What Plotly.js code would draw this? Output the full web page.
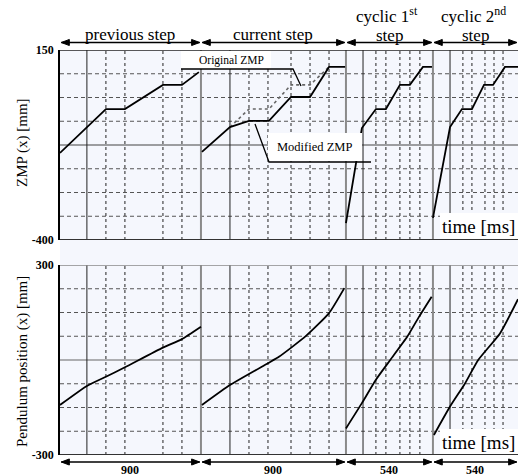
<!DOCTYPE html>
<html><head><meta charset="utf-8">
<script src="https://cdn.plot.ly/plotly-3.0.1.min.js"></script>
<style>html,body{margin:0;padding:0;background:#fff;}#chart{width:518px;height:476px;}
svg text{font-family:'Liberation Serif' !important;}</style>
</head><body><div id="chart"></div>
<script>
// ---- data (time in ms, values in mm) ----
const zmpTime  = [25,310,428,664,782,887,null,906,1080,1198,1322,1459,1577,1695,1795,null,1800,1899,1986,2048,2135,2197,2278,2334,null,2340,2446,2520,2582,2657,2713,2787,2868];
const zmpValue = [-148,-21,-21,49,49,86,null,-145,-73,-55,-55,14,14,101,101,null,-351,-76,-21,-21,49,49,101,101,null,-336,-73,-21,-21,49,49,101,101];
const origTime  = [1080,1198,1322,1459,1577,1695];
const origValue = [-73,-21,-21,49,49,101];
const pendTime  = [25,192,310,428,664,782,900,null,906,1080,1316,1384,1552,1695,1790,null,1800,1898,1985,2075,2181,2254,2332,null,2346,2446,2539,2621,2756,2868];
const pendValue = [-142,-82,-53,-23,39,66,105,null,-142,-79,-10,10,76,148,227,null,-216,-137,-63,0,74,137,200,null,-237,-147,-74,0,84,192];

const sectionStart = [25,900,1800,2340];
const sectionEnd   = [900,1800,2340,2868];
const sectionTop   = ['previous step','current step','cyclic 1<sup>st</sup>','cyclic 2<sup>nd</sup>'];
const sectionSecond= ['','','step','step'];
const sectionDur   = ['900','900','540','540'];

const solidLines    = [192,1080,1906,2446];
const boundaryLines = [900,1800,2340];
const dashedLines   = [310,428,664,782,1198,1316,1459,1577,1695,1986,2048,2135,2197,2259,2526,2582,2663,2719,2775];
const zmpGrid  = [81.25,12.5,-56.25,-193.75,-262.5,-331.25];
const zmpMid   = -125;
const pendGrid = [225,150,75,-75,-150,-225];
const pendMid  = 0;

// ---- helpers for decoration positions (pixel -> paper) ----
const W=518,H=476,ML=60,MT=50,MB=21;
const PW=W-ML, PH=H-MT-MB;
const px = p => (p-ML)/PW;
const py = p => (H-MB-p)/PH;
const SERIF = 'Liberation Serif';

const shapes = [];
shapes.push({type:'rect',xref:'paper',yref:'paper',x0:0,x1:1,y0:0,y1:1,fillcolor:'#f5f7fd',line:{width:0},layer:'below'});

function hline(yref,y,color,width,dash){
  shapes.push({type:'line',xref:'paper',yref:yref,x0:0,x1:1,y0:y,y1:y,line:{color:color,width:width,dash:dash},layer:'below'});
}
function vline(yref,x,color,width,dash){
  shapes.push({type:'line',xref:'x',yref:yref,x0:x,x1:x,y0:0,y1:1,line:{color:color,width:width,dash:dash},layer:'below'});
}
zmpGrid.forEach(v=>hline('y',v,'#555',1,'4px,3px'));
pendGrid.forEach(v=>hline('y2',v,'#555',1,'4px,3px'));
hline('y',zmpMid,'#444',1.2,'solid');
hline('y2',pendMid,'#666',1.2,'solid');
['y domain','y2 domain'].forEach(r=>{
  dashedLines.forEach(x=>vline(r,x,'#222',1,'3px,3px'));
  solidLines.forEach(x=>vline(r,x,'#222',1,'solid'));
  boundaryLines.forEach(x=>vline(r,x,'#8a8a8a',2,'solid'));
});
hline('y',150,'#222',1.5,'solid');
hline('y',-400,'#333',2,'solid');
hline('y2',300,'#888',1.5,'solid');
hline('y2',-300,'#333',2,'solid');

function arrow(x0,x1,yp){
  const L=50, h=0.0075, g=8;
  const a=x0+g, b=x1-g;
  shapes.push({type:'line',xref:'x',yref:'paper',x0:a,x1:b,y0:yp,y1:yp,line:{color:'#000',width:1.5}});
  shapes.push({type:'path',xref:'x',yref:'paper',path:`M ${a},${yp} L ${a+L},${yp+h} L ${a+L},${yp-h} Z`,fillcolor:'#000',line:{color:'#000',width:1}});
  shapes.push({type:'path',xref:'x',yref:'paper',path:`M ${b},${yp} L ${b-L},${yp+h} L ${b-L},${yp-h} Z`,fillcolor:'#000',line:{color:'#000',width:1}});
}
sectionStart.forEach((s,i)=>{ arrow(s,sectionEnd[i],py(42.5)); arrow(s,sectionEnd[i],py(462)); });

function wrect(x0,y0,x1,y1){shapes.push({type:'rect',xref:'paper',yref:'paper',x0:px(x0),x1:px(x1),y0:py(y1),y1:py(y0),fillcolor:'#ffffff',line:{width:0},layer:'above'});}
function pline(pts){
  const d = pts.map((p,i)=>(i?'L ':'M ')+px(p[0])+','+py(p[1])).join(' ');
  shapes.push({type:'path',xref:'paper',yref:'paper',path:d,line:{color:'#000',width:1.3},layer:'above'});
}
wrect(181,51,271,69);
pline([[181,69],[293,69],[301,86]]);
wrect(268,133,362,161);
pline([[255,124],[269,162],[371,162]]);
wrect(440,213,518,239);
wrect(440,429,518,454);

const annotations = [];
function ann(x,y,text,size,extra,xref){
  annotations.push(Object.assign({xref:xref||'paper',yref:'paper',x:x,y:y,text:text,showarrow:false,
    font:{family:SERIF,size:size,color:'#000'},xanchor:'center',yanchor:'middle'},extra||{}));
}
sectionStart.forEach((s,i)=>{
  const mid=(s+sectionEnd[i])/2;
  if(sectionSecond[i]){
    ann(mid-15,py(15),sectionTop[i],17,{},'x');
    ann(mid,py(35),sectionSecond[i],17,{},'x');
  } else {
    ann(mid,py(34),sectionTop[i],17,{},'x');
  }
  ann(mid,py(470),'<b>'+sectionDur[i]+'</b>',12,{},'x');
});
ann(px(231),py(60),'Original ZMP',11.5);
ann(px(314),py(147),'Modified ZMP',12.5);
ann(px(478),py(227),'time [ms]',19);
ann(px(478),py(442),'time [ms]',19);
ann(px(22),py(143),'ZMP (x) [mm]',15,{textangle:-90});
ann(px(22),py(362),'Pendulum position (x) [mm]',15,{textangle:-90});

const traces = [
  {x:origTime,y:origValue,type:'scatter',mode:'lines',xaxis:'x',yaxis:'y',line:{color:'#666',width:1.6,dash:'dot'},hoverinfo:'skip'},
  {x:zmpTime,y:zmpValue,type:'scatter',mode:'lines',xaxis:'x',yaxis:'y',line:{color:'#000',width:1.8},connectgaps:false,hoverinfo:'skip'},
  {x:pendTime,y:pendValue,type:'scatter',mode:'lines',xaxis:'x2',yaxis:'y2',line:{color:'#000',width:1.8,shape:'spline',smoothing:0.5},connectgaps:false,hoverinfo:'skip'}
];

const tickfont = {family:SERIF,size:12,color:'#000'};
const layout = {
  width:W,height:H,margin:{l:ML,r:0,t:MT,b:MB,pad:0},
  paper_bgcolor:'#ffffff',plot_bgcolor:'#f5f7fd',showlegend:false,
  xaxis:{domain:[0,1],range:[25,2868],anchor:'y',showticklabels:false,showgrid:false,zeroline:false,showline:false,ticks:''},
  xaxis2:{domain:[0,1],range:[25,2868],anchor:'y2',showticklabels:false,showgrid:false,zeroline:false,showline:false,ticks:''},
  yaxis:{domain:[1-190/PH,1],range:[-400,150],tickvals:[-400,150],ticktext:['<b>-400</b>','<b>150</b>'],tickfont:tickfont,showgrid:false,zeroline:false,showline:true,linecolor:'#000',linewidth:1.5,ticks:'',ticklabelstandoff:2},
  yaxis2:{domain:[0,190/PH],range:[-300,300],tickvals:[-300,300],ticktext:['<b>-300</b>','<b>300</b>'],tickfont:tickfont,showgrid:false,zeroline:false,showline:true,linecolor:'#000',linewidth:1.5,ticks:'',ticklabelstandoff:2},
  shapes:shapes,annotations:annotations
};
Plotly.newPlot('chart',traces,layout,{displayModeBar:false});
</script></body></html>
